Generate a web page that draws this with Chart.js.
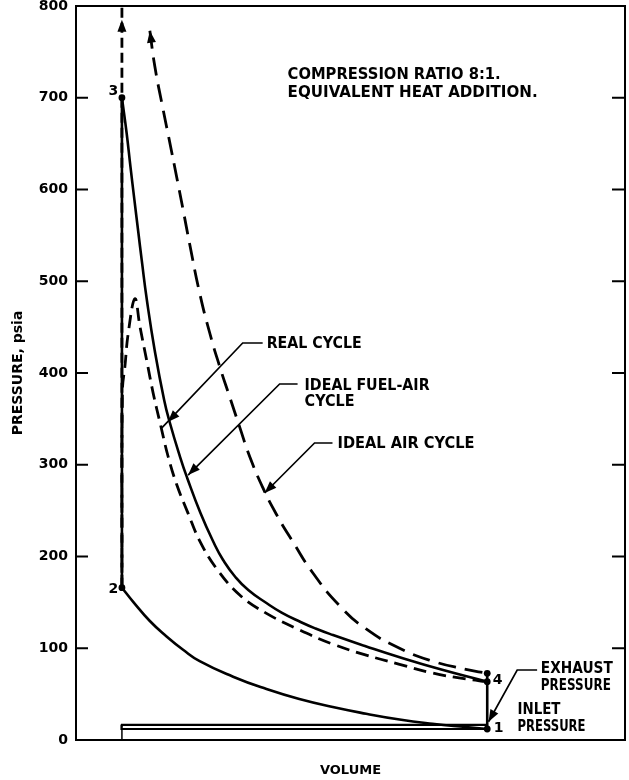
<!DOCTYPE html>
<html><head><meta charset="utf-8">
<script src="https://cdn.jsdelivr.net/npm/chart.js@4/dist/chart.umd.min.js"></script>
<style>html,body{margin:0;padding:0;background:#fff}#wrap{width:629px;height:780px;position:relative}</style>
</head><body><div id="wrap"><canvas id="c"></canvas></div>
<script>
// ---------- DATA (volume in clearance-volume units, pressure in psia) ----------
const yTicks = [0, 100, 200, 300, 400, 500, 600, 700, 800];

// Compression 1 -> 2 (common to all cycles)
const compV = [1, 1.216, 1.535, 1.855, 2.172, 2.49, 3.13, 3.77, 4.40, 5.04, 5.68, 6.32, 6.95, 7.59, 8];
const compP = [166, 150.6, 129.7, 112.9, 98.3, 85.9, 69.0, 55.5, 44.6, 35.9, 28.6, 22.3, 17.7, 14.1, 12];

// Ideal fuel-air cycle: constant-volume heat addition 2 -> 3 and expansion 3 -> 4
const fuelAirHeatV = [1, 1];
const fuelAirHeatP = [166, 700];
const fuelAirExpV = [1, 1.09, 1.164, 1.239, 1.316, 1.379, 1.478, 1.627, 1.809, 1.92, 2.115, 2.251, 2.505, 2.763, 2.939, 3.173, 3.421, 3.769, 4.06, 4.423, 4.71, 5.045, 5.657, 6.307, 7.12, 8];
const fuelAirExpP = [700, 661.6, 624.6, 588.6, 552.6, 523.2, 479.6, 425.1, 370.6, 345.5, 308.4, 285.6, 247.4, 214.7, 196.2, 177.7, 163.5, 149.3, 138.9, 128.6, 121.5, 114.4, 102.5, 90.5, 76.8, 63.6];

// Real cycle (combustion + expansion)
const realV = [1, 1.01, 1.057, 1.12, 1.249, 1.344, 1.472, 1.599, 1.746, 1.885, 2.046, 2.268, 2.49, 2.81, 3.257, 3.77, 4.40, 5.04, 5.68, 6.32, 6.95, 7.59, 8];
const realP = [166, 382, 407, 443, 481, 451, 414.5, 378, 342, 309, 279, 247, 217, 187, 158, 138, 120, 104.5, 92.5, 82.5, 73, 66.5, 63.6];

// Ideal air cycle: heat addition (goes off scale) and expansion
const airHeatV = [1, 1];
const airHeatP = [166, 800];
const airExpV = [1.535, 1.631, 1.79, 1.918, 2.046, 2.172, 2.30, 2.49, 2.683, 2.874, 3.065, 3.257, 3.448, 3.70, 3.96, 4.276, 4.66, 5.16, 5.68, 6.32, 6.95, 7.59, 8];
const airExpP = [773, 734, 687, 651, 614.5, 578, 540, 487, 443.6, 407, 374, 341, 309, 275, 246, 216, 182, 147, 121, 100, 86, 77, 72.7];

// Blowdown 4 -> 1
const blowV = [8, 8];
const blowP = [72.7, 12];

// Exhaust and inlet pressure lines
const exhaustInletV = [8, 1, 0.985, 1, 8];
const exhaustInletP = [16.5, 16.5, 14.2, 12, 12];

// State points
const stateNames = ['1', '2', '3', '4', '4'];
const stateV = [8, 1, 1, 8, 8];
const stateP = [12, 166, 700, 63.6, 72.7];

// ---------- helpers ----------
const pts = (vs, ps) => vs.map((v, i) => ({x: v, y: ps[i]}));
const FONT = '"DejaVu Sans", sans-serif';
Chart.defaults.font.family = FONT;
Chart.defaults.color = '#000';

const base = {showLine: true, pointRadius: 0, borderColor: '#000', backgroundColor: '#000', borderWidth: 2.6, fill: false};
const smooth = {tension: 0.5};

// annotation layout (positions in data units)
const texts = [
  {t: 'COMPRESSION RATIO 8:1.', v: 4.175, p: 724.8, w: 213},
  {t: 'EQUIVALENT HEAT ADDITION.', v: 4.175, p: 705.5, w: 250},
  {t: 'REAL CYCLE', v: 3.773, p: 431.6, w: 95},
  {t: 'IDEAL FUEL-AIR', v: 4.50, p: 385.8, w: 125},
  {t: 'CYCLE', v: 4.50, p: 368.4, w: 50},
  {t: 'IDEAL AIR CYCLE', v: 5.131, p: 322.6, w: 137},
  {t: 'EXHAUST', v: 9.027, p: 77.1, w: 72},
  {t: 'PRESSURE', v: 9.027, p: 58.9, w: 70},
  {t: 'INLET', v: 8.58, p: 32.7, w: 43},
  {t: 'PRESSURE', v: 8.58, p: 14.5, w: 68}
];
const pointLabels = [
  {t: '3', v: 0.834, p: 706.6}, {t: '2', v: 0.834, p: 164.3},
  {t: '4', v: 8.197, p: 65.4}, {t: '1', v: 8.216, p: 12.8}
];
const leaders = [
  {path: [[3.697, 432.7], [3.314, 432.7], [1.765, 340.1]], tip: [1.880, 346.6]},
  {path: [[4.366, 388.0], [4.022, 388.0], [2.268, 288.8]], tip: [2.268, 288.8]},
  {path: [[5.035, 323.7], [4.691, 323.7], [3.735, 269.2]], tip: [3.735, 269.2]},
  {path: [[8.956, 76.3], [8.574, 76.3], [8.025, 19.9]], tip: [8.025, 19.9]}
];
const topArrows = [
  {from: [1, 740], tip: [1, 785]},
  {from: [1.631, 734], tip: [1.535, 773]}
];

const annot = {
  id: 'annot',
  afterDatasetsDraw(chart) {
    const {ctx, chartArea: a, scales: {x, y}} = chart;
    const X = v => x.getPixelForValue(v), Y = v => y.getPixelForValue(v);
    ctx.save();
    ctx.strokeStyle = '#000'; ctx.fillStyle = '#000';
    // frame top/right
    ctx.lineWidth = 2;
    ctx.beginPath(); ctx.moveTo(a.left, a.top); ctx.lineTo(a.right, a.top); ctx.lineTo(a.right, a.bottom); ctx.stroke();
    // inward tick marks
    yTicks.forEach(t => {
      const py = Y(t);
      ctx.beginPath();
      ctx.moveTo(a.left, py); ctx.lineTo(a.left + 12, py);
      ctx.moveTo(a.right, py); ctx.lineTo(a.right - 13, py);
      ctx.stroke();
    });
    // small stub below the inlet line at top dead centre
    ctx.lineWidth = 1.5;
    ctx.beginPath(); ctx.moveTo(X(1), Y(12)); ctx.lineTo(X(1), Y(0)); ctx.stroke();
    // arrowhead helper
    const arrow = (fx, fy, tx, ty, len, hw) => {
      const ang = Math.atan2(ty - fy, tx - fx);
      ctx.beginPath();
      ctx.moveTo(tx, ty);
      ctx.lineTo(tx - len * Math.cos(ang) + hw * Math.sin(ang), ty - len * Math.sin(ang) - hw * Math.cos(ang));
      ctx.lineTo(tx - len * Math.cos(ang) - hw * Math.sin(ang), ty - len * Math.sin(ang) + hw * Math.cos(ang));
      ctx.closePath(); ctx.fill();
    };
    // leaders
    ctx.lineWidth = 1.7;
    leaders.forEach(l => {
      ctx.beginPath();
      l.path.forEach(([v, p], i) => i ? ctx.lineTo(X(v), Y(p)) : ctx.moveTo(X(v), Y(p)));
      ctx.stroke();
      const [v1, p1] = l.path[l.path.length - 2];
      arrow(X(v1), Y(p1), X(l.tip[0]), Y(l.tip[1]), 12, 4.5);
    });
    // top arrows
    topArrows.forEach(t => arrow(X(t.from[0]), Y(t.from[1]), X(t.tip[0]), Y(t.tip[1]), 12, 4.5));
    // texts
    ctx.textBaseline = 'middle';
    texts.forEach(o => {
      ctx.font = 'bold 16px ' + FONT;
      const w = ctx.measureText(o.t).width;
      ctx.save();
      ctx.translate(X(o.v), Y(o.p));
      ctx.scale(o.w / w, 1);
      ctx.textAlign = 'left';
      ctx.fillText(o.t, 0, 0);
      ctx.restore();
    });
    ctx.font = 'bold 14px ' + FONT;
    ctx.textAlign = 'center';
    pointLabels.forEach(o => ctx.fillText(o.t, X(o.v), Y(o.p)));
    ctx.restore();
  }
};

new Chart(document.getElementById('c'), {
  type: 'scatter',
  data: {
    datasets: [
      {...base, ...smooth, label: 'Compression', data: pts(compV, compP)},
      {...base, label: 'Ideal fuel-air heat addition', data: pts(fuelAirHeatV, fuelAirHeatP)},
      {...base, ...smooth, label: 'Ideal fuel-air cycle', data: pts(fuelAirExpV, fuelAirExpP)},
      {...base, label: 'Real cycle', data: pts(realV, realP), tension: 0.4, borderDash: [13, 7], borderWidth: 2.8},
      {...base, label: 'Ideal air heat addition', data: pts(airHeatV, airHeatP), borderDash: [10, 5], borderWidth: 2.8},
      {...base, ...smooth, label: 'Ideal air cycle', data: pts(airExpV, airExpP), borderDash: [18, 9], borderWidth: 2.8},
      {...base, label: 'Blowdown', data: pts(blowV, blowP)},
      {...base, label: 'Exhaust / inlet pressure', data: pts(exhaustInletV, exhaustInletP), borderWidth: 2.2, tension: 0},
      {label: 'State points', data: pts(stateV, stateP), showLine: false, pointRadius: 3.4, pointBackgroundColor: '#000', pointBorderColor: '#000', pointBorderWidth: 0}
    ]
  },
  options: {
    responsive: true, maintainAspectRatio: false, animation: false,
    layout: {padding: {top: 6, right: 3, left: 0, bottom: 0}},
    plugins: {legend: {display: false}, tooltip: {enabled: false}},
    scales: {
      x: {
        type: 'linear', min: 0.12, max: 10.64,
        grid: {display: false, drawTicks: false},
        border: {display: true, color: '#000', width: 2},
        ticks: {display: false},
        title: {display: true, text: 'VOLUME', font: {size: 13, weight: 'bold'}, color: '#000', padding: {top: 0, bottom: 2}},
        afterFit: s => { s.height = 40; s.paddingLeft = 0; s.paddingRight = 0; }
      },
      y: {
        type: 'linear', min: 0, max: 800,
        afterBuildTicks: s => { s.ticks = yTicks.map(v => ({value: v})); },
        grid: {display: false, drawTicks: false},
        border: {display: true, color: '#000', width: 2},
        ticks: {padding: 8, font: {size: 14, weight: 'bold'}, color: '#000'},
        title: {display: true, text: 'PRESSURE, psia', font: {size: 14, weight: 'bold'}, color: '#000', padding: {top: 10, bottom: 0}},
        afterFit: s => { s.width = 76; s.paddingTop = 0; s.paddingBottom = 0; }
      }
    }
  },
  plugins: [annot]
});
</script></body></html>
